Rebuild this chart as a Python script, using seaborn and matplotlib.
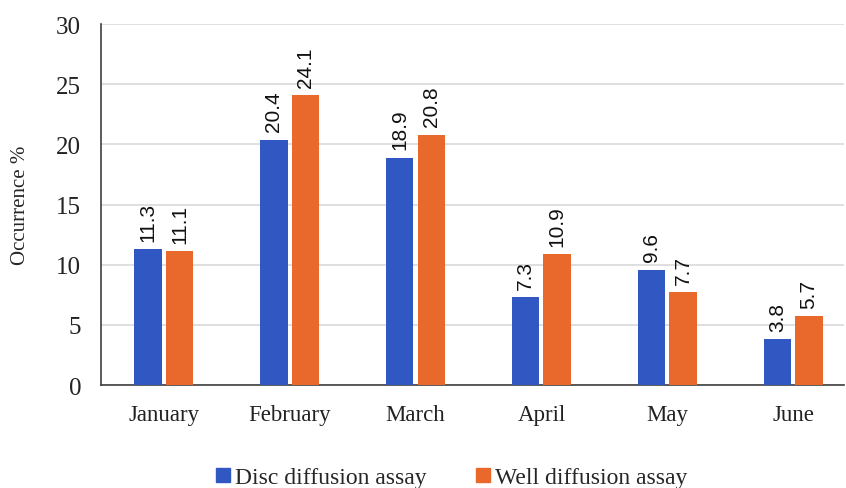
import pandas as pd
import matplotlib
matplotlib.use('Agg')
import matplotlib.pyplot as plt
import seaborn as sns
from matplotlib.lines import Line2D

months = ['January', 'February', 'March', 'April', 'May', 'June']
disc = [11.3, 20.4, 18.9, 7.3, 9.6, 3.8]
well = [11.1, 24.1, 20.8, 10.9, 7.7, 5.7]
series = ['Disc diffusion assay', 'Well diffusion assay']
colors = ['#3157C2', '#E8692B']

df = pd.DataFrame({
    'Month': months * 2,
    'Value': disc + well,
    'Assay': [series[0]] * len(months) + [series[1]] * len(months),
})

sns.set_style('white')
plt.rcParams['font.family'] = ['Liberation Serif', 'DejaVu Serif']

fig = plt.figure(figsize=(8.46, 4.89), dpi=100)
ax = fig.add_axes([0.119, 0.2106, 0.879, 0.738])

sns.barplot(data=df, x='Month', y='Value', hue='Assay', palette=colors,
            saturation=1, width=0.5, gap=0.13, linewidth=0,
            ax=ax, legend=False, zorder=3)

ax.set_ylim(0, 30)
ax.set_yticks(range(0, 31, 5))
ax.set_xlim(-0.5, 5.405)
ax.yaxis.grid(True, color='#d9d9d9', linewidth=1.2, zorder=0)
ax.set_axisbelow(True)
for s in ['top', 'right']:
    ax.spines[s].set_visible(False)
ax.spines['left'].set_color('#404040')
ax.spines['bottom'].set_color('#404040')
ax.spines['left'].set_linewidth(1.2)
ax.spines['bottom'].set_linewidth(1.2)
ax.tick_params(axis='y', length=0, labelsize=18, colors='#222222', pad=14)
ax.tick_params(axis='x', length=0, labelsize=16.5, colors='#222222', pad=14)
ax.set_xlabel('')
ax.set_ylabel('Occurrence %', fontsize=15)
ax.yaxis.set_label_coords(-0.095, 0.5)

for cont in ax.containers:
    ax.bar_label(cont, fmt='%.1f', rotation=90, padding=6, fontsize=15,
                 family='Liberation Sans', color='#111111')

handles = [Line2D([], [], marker='s', linestyle='', markersize=9.5,
                  markerfacecolor=c, markeredgecolor=c) for c in colors]
fig.legend(handles, series, loc='center', bbox_to_anchor=(0.534, 0.022),
           ncol=2, frameon=False, fontsize=17, handlelength=0.6,
           handletextpad=0.2, columnspacing=2.1)

fig.savefig('out.png', dpi=100)
